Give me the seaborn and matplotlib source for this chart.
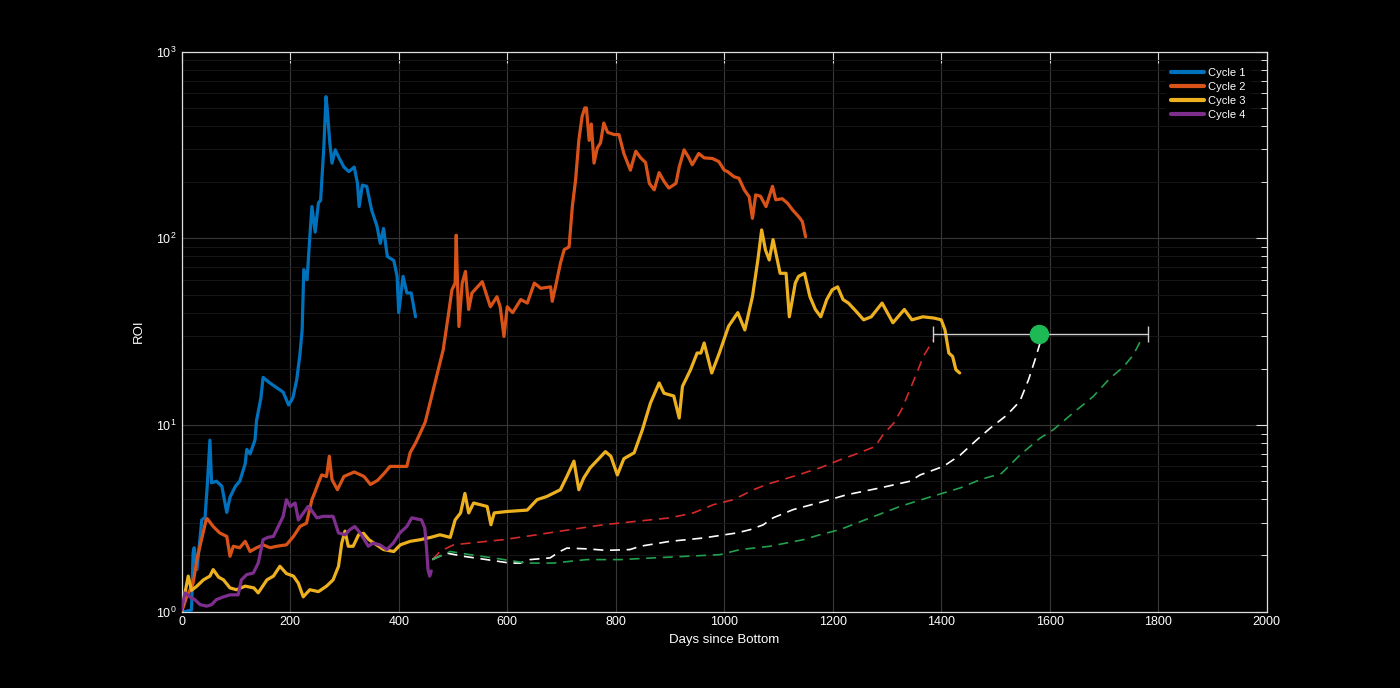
import numpy as np
import pandas as pd
import matplotlib
matplotlib.use("Agg")
import matplotlib.pyplot as plt
import seaborn as sns

# cycle 1..4 (days since bottom, ROI)
c1_days = [0, 6, 18, 21, 23, 28, 37, 43, 47, 52, 55, 64, 74, 83, 89, 99, 107, 117, 120, 126,
           135, 138, 146, 150, 160, 173, 187, 197, 205, 212, 218, 222, 225, 231, 237, 240, 246,
           252, 256, 262, 266, 268, 273, 277, 283, 290, 299, 308, 318, 324, 327, 333, 341, 350,
           360, 366, 372, 379, 391, 397, 400, 408, 415, 423, 431]
c1_roi = [1.0, 1.0, 1.02, 2.07, 2.2, 1.68, 3.1, 3.2, 4.7, 8.3, 4.9, 5.0, 4.7, 3.4, 4.1, 4.7, 5.0,
          6.2, 7.4, 7.0, 8.3, 10.6, 14, 18, 17, 16, 15, 12.8, 14, 17.5, 24, 32.4, 68, 60, 111, 148,
          108, 155, 160, 310, 575, 500, 325, 253, 298, 270, 241, 228, 241, 197, 148, 193, 190, 142,
          116, 94, 113, 80, 76, 62.6, 40, 62.6, 51, 51, 38]

c2_days = [0, 9, 21, 28, 36, 45, 47, 58, 70, 83, 89, 95, 107, 117, 126, 138, 150, 163, 175, 193,
           206, 218, 230, 240, 246, 252, 258, 267, 272, 277, 287, 299, 318, 336, 348, 361, 373,
           384, 396, 415, 421, 431, 440, 449, 465, 482, 491, 498, 504, 506, 508, 511, 517, 523,
           529, 535, 554, 569, 581, 587, 594, 600, 610, 625, 637, 650, 662, 680, 683, 689, 698,
           705, 714, 720, 726, 732, 738, 743, 746, 751, 755, 760, 766, 772, 778, 785, 797, 806,
           815, 827, 837, 846, 855, 862, 871, 880, 889, 898, 911, 917, 926, 935, 941, 953, 963,
           978, 990, 1000, 1006, 1018, 1027, 1037, 1046, 1052, 1058, 1067, 1077, 1089, 1095,
           1107, 1117, 1126, 1138, 1144, 1150]
c2_roi = [1.0, 1.2, 1.42, 1.9, 2.4, 3.1, 3.15, 2.86, 2.64, 2.53, 1.98, 2.24, 2.2, 2.38, 2.1, 2.2,
          2.28, 2.2, 2.24, 2.28, 2.53, 2.86, 2.98, 3.98, 4.4, 4.9, 5.4, 5.3, 6.8, 5.1, 4.5, 5.3,
          5.6, 5.3, 4.8, 5.05, 5.5, 6.0, 6.0, 6.0, 7.1, 8.0, 9.1, 10.4, 16, 25.3, 38, 52.9, 57.6,
          104, 62.6, 33.7, 57.6, 66.5, 41.6, 51, 58.6, 43, 48.7, 43, 29.8, 43, 40, 47, 45, 57.6,
          54, 55, 46, 55, 73.5, 87, 90, 148, 205, 335, 450, 500, 500, 335, 410, 253, 305, 325,
          415, 370, 360, 360, 285, 232, 293, 270, 255, 197, 182, 225, 202, 186, 197, 241, 298,
          270, 248, 285, 270, 268, 258, 232, 228, 214, 210, 182, 167, 128, 171, 168, 148, 190,
          161, 163, 154, 142, 130, 123, 102]

c3_days = [0, 6, 12, 18, 28, 40, 52, 58, 68, 77, 89, 101, 117, 133, 141, 157, 169, 181, 193, 206,
           215, 224, 236, 252, 267, 279, 289, 295, 301, 307, 316, 326, 335, 345, 372, 391, 403,
           421, 440, 459, 476, 495, 504, 514, 522, 529, 538, 563, 570, 576, 600, 637, 655, 673,
           698, 710, 723, 732, 741, 753, 781, 791, 803, 815, 834, 849, 864, 880, 889, 907, 917,
           923, 938, 950, 957, 963, 977, 991, 1008, 1025, 1038, 1052, 1062, 1069, 1076, 1083,
           1090, 1103, 1114, 1120, 1131, 1137, 1148, 1158, 1168, 1178, 1189, 1199, 1209, 1219,
           1229, 1243, 1257, 1271, 1291, 1311, 1332, 1346, 1366, 1387, 1400, 1407, 1414, 1421,
           1427, 1434]
c3_roi = [1.0, 1.26, 1.55, 1.3, 1.37, 1.48, 1.55, 1.68, 1.53, 1.48, 1.34, 1.31, 1.37, 1.34, 1.26,
          1.48, 1.55, 1.75, 1.6, 1.55, 1.42, 1.2, 1.31, 1.28, 1.37, 1.48, 1.75, 2.33, 2.7, 2.24,
          2.24, 2.58, 2.63, 2.43, 2.15, 2.1, 2.28, 2.38, 2.43, 2.5, 2.58, 2.5, 3.1, 3.38, 4.3,
          3.38, 3.82, 3.66, 2.92, 3.38, 3.44, 3.5, 3.98, 4.14, 4.5, 5.3, 6.4, 4.5, 5.2, 5.9, 7.2,
          6.8, 5.4, 6.6, 7.1, 9.4, 13.1, 16.8, 14.8, 14.3, 10.9, 16.1, 19.8, 24.3, 24.3, 27.5, 19,
          24.3, 33.8, 40, 32.3, 48.7, 76.6, 111, 86.7, 76.6, 98.5, 65, 65, 38, 57.6, 62.6, 65,
          48.7, 41.6, 38, 47, 53, 55, 47, 45, 40.7, 36.6, 38, 45, 35.3, 41.6, 36.6, 38, 37.4,
          36.6, 32.3, 24.3, 23.3, 19.8, 19]

c4_days = [0, 6, 15, 24, 34, 46, 55, 64, 77, 89, 104, 110, 120, 132, 141, 150, 159, 169, 181, 187,
           193, 200, 209, 215, 233, 239, 249, 261, 279, 289, 301, 310, 319, 329, 344, 353, 365,
           378, 390, 402, 415, 424, 442, 448, 451, 454, 457, 460]
c4_roi = [1.02, 1.26, 1.2, 1.16, 1.09, 1.07, 1.09, 1.16, 1.2, 1.23, 1.23, 1.48, 1.58, 1.61, 1.82,
          2.43, 2.5, 2.53, 2.98, 3.24, 3.98, 3.66, 3.82, 3.1, 3.66, 3.5, 3.18, 3.24, 3.24, 2.64,
          2.58, 2.75, 2.86, 2.64, 2.24, 2.33, 2.28, 2.15, 2.33, 2.64, 2.86, 3.18, 3.1, 2.8, 2.24,
          1.68, 1.55, 1.65]

# projections from the end of cycle 4
red_days = [462, 476, 501, 531, 593, 654, 716, 777, 839, 900, 943, 980, 1017, 1054, 1078, 1127,
            1177, 1213, 1238, 1278, 1293, 1312, 1327, 1342, 1355, 1367, 1382, 1385]
red_roi = [1.9, 2.1, 2.28, 2.33, 2.43, 2.58, 2.75, 2.92, 3.05, 3.18, 3.38, 3.74, 3.98, 4.5, 4.8,
           5.3, 5.9, 6.5, 6.9, 7.66, 8.9, 10.2, 12.1, 15.4, 19, 23.3, 27.5, 28.5]

white_days = [462, 488, 519, 562, 605, 624, 642, 679, 697, 710, 746, 783, 826, 845, 900, 961, 1023,
              1048, 1072, 1090, 1127, 1177, 1226, 1287, 1343, 1361, 1404, 1435, 1465, 1490, 1521,
              1545, 1561, 1573, 1582]
white_roi = [1.9, 2.06, 1.98, 1.9, 1.82, 1.82, 1.9, 1.94, 2.1, 2.19, 2.17, 2.13, 2.15, 2.24, 2.38,
             2.48, 2.64, 2.75, 2.92, 3.18, 3.52, 3.85, 4.23, 4.6, 5.0, 5.4, 6.0, 6.9, 8.3, 9.6,
             11.3, 13.4, 17.5, 22.4, 27.4]

green_days = [462, 495, 531, 574, 636, 685, 746, 808, 869, 931, 992, 1029, 1084, 1146, 1176, 1213,
              1269, 1324, 1373, 1435, 1472, 1511, 1545, 1582, 1607, 1643, 1680, 1711, 1736, 1754,
              1770]
green_roi = [1.9, 2.1, 2.02, 1.94, 1.82, 1.82, 1.9, 1.9, 1.94, 1.98, 2.02, 2.15, 2.24, 2.43, 2.58,
             2.75, 3.18, 3.66, 4.06, 4.6, 5.1, 5.5, 6.9, 8.5, 9.45, 11.6, 14.2, 17.8, 20.5, 23.7,
             29.2]

# estimate with range
est_day = 1580
est_roi = 30.7
est_lo = 195
est_hi = 201

sns.set_style("dark")
plt.rcParams['font.family'] = ['Liberation Sans', 'DejaVu Sans']

fig = plt.figure(figsize=(14, 6.88), dpi=100, facecolor='black')
ax = fig.add_axes([0.1298, 0.111, 0.7750, 0.8138])
ax.set_facecolor('black')

cycles = [(c1_days, c1_roi, '#0072BD', 'Cycle 1'),
          (c2_days, c2_roi, '#D95319', 'Cycle 2'),
          (c3_days, c3_roi, '#EDB120', 'Cycle 3'),
          (c4_days, c4_roi, '#7E2F8E', 'Cycle 4')]
for d, r, col, lab in cycles:
    sns.lineplot(x=d, y=r, ax=ax, color=col, lw=2.3, label=lab, estimator=None, zorder=3)

proj = [(red_days, red_roi, '#D42A2A'),
        (white_days, white_roi, '#FFFFFF'),
        (green_days, green_roi, '#22A04E')]
for d, r, col in proj:
    sns.lineplot(x=d, y=r, ax=ax, color=col, lw=1.2, dashes=False, estimator=None,
                 linestyle=(0, (6, 4)), legend=False, zorder=2)

ax.errorbar([est_day], [est_roi], xerr=[[est_lo], [est_hi]], color='#CFCFCF', lw=1.0,
            capsize=6, capthick=1.0, fmt='none', zorder=4)
ax.plot([est_day], [est_roi], 'o', color='#1DB954', ms=13, zorder=5)

ax.set_yscale('log')
ax.set_xlim(0, 2000)
ax.set_ylim(1, 1000)
ax.set_xticks(np.arange(0, 2001, 200))

ax.grid(True, which='major', color='#383838', lw=0.8)
ax.grid(True, which='minor', axis='y', color='#161616', lw=0.7)
ax.tick_params(which='both', direction='in', top=True, right=True, colors='#DDDDDD',
               labelcolor='white', labelsize=9)
ax.tick_params(which='major', length=8, width=0.8)
ax.tick_params(which='minor', length=4, width=0.7)
for s in ax.spines.values():
    s.set_color('#DDDDDD')
    s.set_linewidth(0.9)
    s.set_visible(True)

ax.set_xlabel('Days since Bottom', color='white', fontsize=9.5, labelpad=4)
ax.set_ylabel('ROI', color='white', fontsize=9.5, labelpad=8)

leg = ax.legend(loc='upper right', bbox_to_anchor=(0.988, 0.985), fontsize=8, frameon=True,
                facecolor='black', edgecolor='black', labelcolor='white', handlelength=3.0,
                labelspacing=0.35, handletextpad=0.4, borderaxespad=0.3)
for h in leg.get_lines():
    h.set_linewidth(3)

fig.savefig('out.png', dpi=100, facecolor='black')
